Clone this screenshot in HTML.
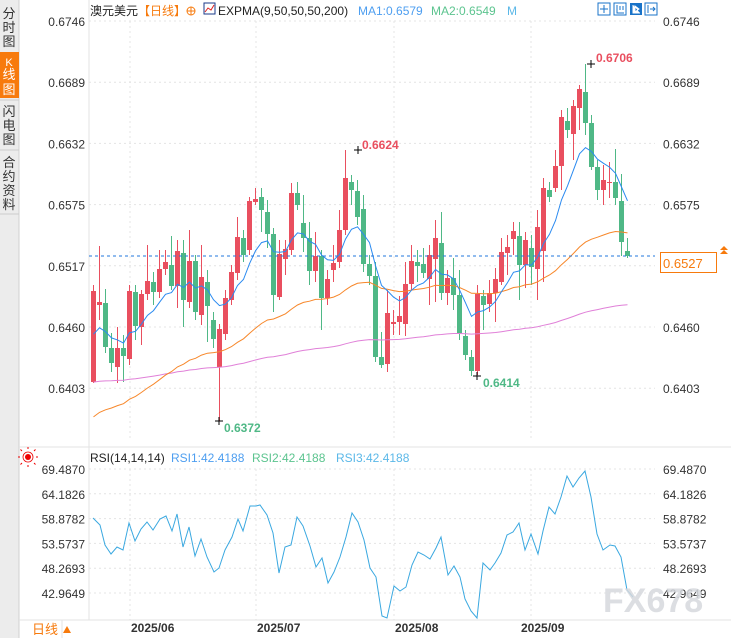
<!DOCTYPE html>
<html><head><meta charset="utf-8"><style>
body{margin:0;width:731px;height:638px;overflow:hidden;background:#fff;font-family:"Liberation Sans","Noto Sans CJK SC",sans-serif;}
svg{position:absolute;left:0;top:0}
</style></head><body>
<svg id="s" width="731" height="638" xmlns="http://www.w3.org/2000/svg" font-family="Liberation Sans, Noto Sans CJK SC, sans-serif">
<rect x="0" y="0" width="19" height="638" fill="#ececec"/>
<line x1="19" y1="0" x2="19" y2="638" stroke="#d0d0d0"/>
<rect x="0" y="52" width="19" height="46" fill="#f77a0c"/>
<g font-size="13" fill="#333" text-anchor="middle">
<text x="9" y="18">分</text><text x="9" y="32">时</text><text x="9" y="46">图</text>
<text x="9" y="66" fill="#fff" font-size="11">K</text><text x="9" y="79" fill="#fff">线</text><text x="9" y="94" fill="#fff">图</text>
<text x="9" y="116">闪</text><text x="9" y="130">电</text><text x="9" y="144">图</text>
<text x="9" y="167">合</text><text x="9" y="181">约</text><text x="9" y="195">资</text><text x="9" y="209">料</text>
</g>
<line x1="0" y1="100" x2="19" y2="100" stroke="#ccc"/><line x1="0" y1="150" x2="19" y2="150" stroke="#ccc"/>
<line x1="0" y1="214" x2="19" y2="214" stroke="#ccc"/>
<line x1="89" y1="0" x2="89" y2="620" stroke="#e3e3e3"/>
<line x1="19" y1="447" x2="731" y2="447" stroke="#e3e3e3"/>
<line x1="19" y1="620" x2="731" y2="620" stroke="#e3e3e3"/>
<line x1="62" y1="620" x2="62" y2="638" stroke="#e3e3e3"/>
<g id="grid" stroke="#e4e4e4" stroke-dasharray="2,3"></g>
<g id="ticks" font-size="12" fill="#333"></g>
<g id="main"></g>
<line x1="89" y1="256" x2="655" y2="256" stroke="#2277dd" stroke-dasharray="3,3"/>
<rect x="660.5" y="252.5" width="56" height="20" fill="#fff" stroke="#f77a0c"/>
<text x="663" y="268" font-size="13" fill="#f77a0c">0.6527</text>
<path d="M724 246 l4 4 h-8z M724 250 l4 4 h-8z" fill="#f77a0c"/>
<g font-size="12" font-weight="bold">
<text x="596" y="62" fill="#e94f5f">0.6706</text>
<text x="362" y="149" fill="#e94f5f">0.6624</text>
<text x="224" y="432" fill="#4fb886">0.6372</text>
<text x="483" y="387" fill="#4fb886">0.6414</text>
</g>
<g stroke="#000" stroke-width="1">
<path d="M587 64h8M591 60v8M354 150h8M358 146v8M215 421h8M219 417v8M473 376h8M477 372v8"/>
</g>
<g font-size="12">
<text x="90" y="15" fill="#222">澳元美元</text>
<text x="138" y="15" fill="#f77a0c">【日线】</text>
<circle cx="191" cy="11" r="4" fill="none" stroke="#f77a0c"/><path d="M187 11h8M191 7v8" stroke="#f77a0c"/>
<rect x="204" y="3" width="11" height="11" fill="#fff" stroke="#1a3a8a"/><path d="M205 12l3-4 3 2 3-5" stroke="#d22" fill="none"/>
<text x="218" y="15" fill="#222">EXPMA(9,50,50,50,200)</text>
<text x="358" y="15" fill="#4d9ef0">MA1:0.6579</text>
<text x="431" y="15" fill="#5cc48f">MA2:0.6549</text>
<text x="507" y="15" fill="#5bb8e8">M</text>
</g>
<g fill="#1a73c8">
<rect x="598" y="3" width="12" height="12" fill="#fff" stroke="#1a73c8"/><path d="M604 5v8M600 9h8" stroke="#1a73c8"/>
<rect x="614" y="3" width="12" height="12" fill="#fff" stroke="#1a73c8"/><path d="M617 5v8h7M620 6v4M623 6v4" stroke="#1a73c8" fill="none"/>
<rect x="630" y="3" width="12" height="12"/><path d="M633 5v8h7M635 6l4 3-4 3z" stroke="#fff" fill="#fff"/>
<rect x="645" y="3" width="12" height="12" fill="#fff" stroke="#1a73c8"/><path d="M648 5v8M650 9h5M653 7l2 2-2 2" stroke="#1a73c8" fill="none"/>
</g>
<g transform="translate(28,457)">
<circle r="3" fill="#e00"/><circle r="5" fill="none" stroke="#e00" stroke-width="0.8"/>
<path d="M-8 0h-2M8 0h2M0 -8v-2M0 8v2M-6 -6l-1.5 -1.5M6 6l1.5 1.5M-6 6l-1.5 1.5M6 -6l1.5 -1.5" stroke="#e00"/>
</g>
<g font-size="12">
<text x="90" y="462" fill="#222">RSI(14,14,14)</text>
<text x="171" y="462" fill="#4d9ef0">RSI1:42.4188</text>
<text x="252" y="462" fill="#5cc48f">RSI2:42.4188</text>
<text x="336" y="462" fill="#5bb8e8">RSI3:42.4188</text>
</g>
<polyline id="rsi" fill="none" stroke="#3aa8e0" stroke-width="1"/>
<text x="603" y="612" font-size="34" fill="#d6d9de" font-weight="bold" opacity="0.85">FX678</text>
<g font-size="12" font-weight="bold" fill="#333">
<text x="131" y="632">2025/06</text><text x="257" y="632">2025/07</text>
<text x="395" y="632">2025/08</text><text x="521" y="632">2025/09</text>
</g>
<text x="32" y="634" font-size="13" fill="#f77a0c">日线</text>
<path d="M63 633l4-7 4 7z" fill="#f77a0c"/>
</svg>
<script>
(function(){
var NS="http://www.w3.org/2000/svg";
function el(t,a,p){var e=document.createElementNS(NS,t);for(var k in a)e.setAttribute(k,a[k]);(p||document.getElementById('main')).appendChild(e);return e;}
var grid=document.getElementById('grid'),ticks=document.getElementById('ticks');
var pl=["0.6746","0.6689","0.6632","0.6575","0.6517","0.6460","0.6403"];
for(var i=0;i<7;i++){var y=21+i*61.2;el('line',{x1:89,y1:y,x2:655,y2:y},grid);
var t=el('text',{x:85,y:y+5,'text-anchor':'end'},ticks);t.textContent=pl[i];
var t2=el('text',{x:663,y:y+5},ticks);t2.textContent=pl[i];}
var rl=["69.4870","64.1826","58.8782","53.5737","48.2693","42.9649"];
for(var i=0;i<6;i++){var y=469+i*24.8;el('line',{x1:89,y1:y,x2:655,y2:y},grid);
var t=el('text',{x:85,y:y+5,'text-anchor':'end'},ticks);t.textContent=rl[i];
var t2=el('text',{x:663,y:y+5},ticks);t2.textContent=rl[i];}
[130,256,394,531].forEach(function(x){el('line',{x1:x,y1:21,x2:x,y2:440},grid);el('line',{x1:x,y1:469,x2:x,y2:620},grid);});
var C=[[382,291,285,383],[305,302,246,320],[303,347,289,353],[348,363,333,372],[367,348,327,383],[348,356,335,382],[359,291,285,365],[292,326,285,340],[327,294,290,345],[294,281,245,300],[282,292,272,305],[292,269,250,298],[269,262,250,275],[265,286,236,290],[286,251,240,308],[253,300,240,327],[302,261,230,308],[261,312,255,320],[315,277,245,325],[282,306,270,342],[320,339,312,348],[367,329,324,421],[334,298,290,340],[300,272,265,305],[273,237,217,280],[238,255,230,262],[250,201,197,255],[202,199,188,205],[197,210,188,232],[212,234,200,248],[234,295,228,312],[297,254,240,300],[259,249,240,275],[250,193,183,255],[193,205,182,210],[223,238,195,252],[238,271,222,285],[271,256,232,282],[256,298,250,330],[298,279,270,305],[270,263,245,282],[262,230,210,268],[230,178,150,235],[182,190,175,205],[191,217,180,225],[209,264,195,272],[264,276,255,285],[276,357,262,362],[357,365,332,368],[364,313,290,372],[324,322,310,335],[322,316,296,335],[324,284,262,336],[284,261,245,290],[262,266,250,282],[264,273,248,278],[279,255,245,305],[259,238,220,302],[243,293,212,300],[293,278,270,305],[278,295,258,310],[295,333,270,340],[336,355,330,360],[357,371,350,376],[371,294,285,375],[296,305,290,330],[304,293,280,312],[293,279,268,322],[282,252,238,285],[253,247,235,275],[239,231,222,255],[236,265,222,300],[265,240,232,288],[248,267,235,285],[269,227,210,300],[251,188,178,282],[190,197,182,202],[188,166,150,192],[166,117,110,190],[121,130,108,138],[134,106,100,160],[108,89,85,130],[92,123,64,135],[123,167,115,170],[167,190,160,200],[190,180,165,205],[183,182,162,198],[182,198,149,205],[201,242,174,256],[251,256,238,258]];
var closes=[];
for(var i=0;i<C.length;i++){var c=C[i],x=93+6*i,up=c[1]<c[0],col=up?'#e94f5f':'#4fb886';
var tp=Math.min(c[0],c[1]),bt=Math.max(c[0],c[1]);
el('line',{x1:x+0.5,y1:c[2],x2:x+0.5,y2:c[3],stroke:col});
el('rect',{x:x-2,y:tp,width:5,height:Math.max(1,bt-tp),fill:col});closes.push(c[1]);}
function ema(n,start){var k=2/(n+1),v=start,pts=[];for(var i=0;i<closes.length;i++){v=v+k*(closes[i]-v);pts.push((93+6*i+0.5)+','+v.toFixed(1));}return pts.join(' ');}
el('polyline',{points:ema(200,383),fill:'none',stroke:'#e080d8'});
el('polyline',{points:ema(50,422),fill:'none',stroke:'#f7872a'});
el('polyline',{points:ema(9,345),fill:'none',stroke:'#2a8af0'});
var R=[93,518,100,525,105,545,111,554,117,547,123,550,129,523,135,541,141,529,147,522,153,530,160,519,166,516,172,531,177,514,183,547,189,527,195,556,201,539,207,557,214,572,219,568,225,550,232,537,238,519,243,531,250,506,256,506,260,505,267,515,273,533,279,573,285,547,291,545,297,517,303,526,310,546,316,567,322,558,328,583,334,572,340,557,346,537,352,513,358,522,364,540,370,568,376,577,382,616,387,618,394,586,400,591,406,587,412,565,418,552,424,555,430,559,436,548,441,537,448,575,454,566,460,577,465,599,471,611,477,618,483,563,490,570,495,563,501,553,507,535,513,532,519,523,525,550,531,534,538,554,543,531,549,507,555,514,561,497,567,476,573,487,579,478,585,471,591,497,597,534,603,550,610,545,615,546,621,557,627,590,633,597];
var p=[];for(var i=0;i<R.length;i+=2)p.push(R[i]+','+R[i+1]);
document.getElementById('rsi').setAttribute('points',p.join(' '));
})();
</script>
</body></html>
